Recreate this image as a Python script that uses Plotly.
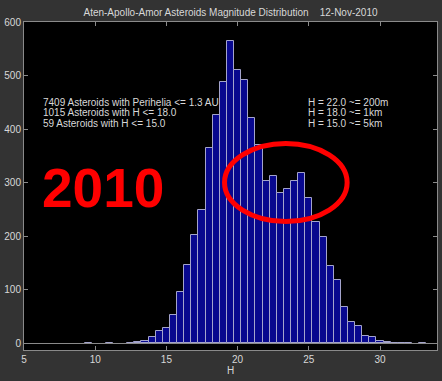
import plotly.graph_objects as go

# Histogram data (bin centers in H, counts)
bin_centers = [9.5, 11.0, 12.5, 13.0, 13.5, 14.0, 14.5, 15.0, 15.5, 16.0,
               16.5, 17.0, 17.5, 18.0, 18.5, 19.0, 19.5, 20.0, 20.5, 21.0,
               21.5, 22.0, 22.5, 23.0, 23.5, 24.0, 24.5, 25.0, 25.5, 26.0,
               26.5, 27.0, 27.5, 28.0, 28.5, 29.0, 29.5, 30.0, 30.5, 31.0,
               31.5, 32.0, 33.0]
counts = [1, 1, 1, 2, 4, 12, 23, 29, 53, 95,
          146, 202, 248, 364, 427, 487, 564, 510, 492, 420,
          370, 303, 313, 280, 288, 303, 318, 271, 226, 199,
          144, 118, 68, 40, 32, 13, 12, 4, 2, 1,
          1, 1, 1]

x_ticks = [5, 10, 15, 20, 25, 30]
y_ticks = [0, 100, 200, 300, 400, 500, 600]

title_text = "Aten-Apollo-Amor Asteroids Magnitude Distribution    12-Nov-2010"
left_notes = ["7409 Asteroids with Perihelia <= 1.3 AU",
              "1015 Asteroids with H <= 18.0",
              "59 Asteroids with H <= 15.0"]
right_notes = ["H = 22.0 ~= 200m", "H = 18.0 ~= 1km", "H = 15.0 ~= 5km"]
note_y = [450, 430, 410]

FONT = "Liberation Sans, Arial, sans-serif"
TXT = "#d8d8d8"
AX = "#8a8a8a"

fig = go.Figure()
fig.add_trace(go.Bar(
    x=bin_centers, y=counts, width=0.5,
    marker=dict(color="#08088e", line=dict(color="#a4a4cc", width=1)),
    hoverinfo="x+y",
))

annotations = []
for t, yv in zip(left_notes, note_y):
    annotations.append(dict(x=6.2, y=yv, xref="x", yref="y", text=t, showarrow=False,
                            xanchor="left", yanchor="middle",
                            font=dict(family=FONT, size=10, color=TXT)))
for t, yv in zip(right_notes, note_y):
    annotations.append(dict(x=24.8, y=yv, xref="x", yref="y", text=t, showarrow=False,
                            xanchor="left", yanchor="middle",
                            font=dict(family=FONT, size=10, color=TXT)))
annotations.append(dict(x=10.55, y=290, xref="x", yref="y", text="<b>2010</b>",
                        showarrow=False, xanchor="center", yanchor="middle",
                        font=dict(family=FONT, size=55, color="#ff0000")))
annotations.append(dict(x=0.5, y=-0.062, xref="paper", yref="paper", text="H",
                        showarrow=False, xanchor="center", yanchor="middle",
                        font=dict(family=FONT, size=10, color=TXT)))

fig.update_layout(
    width=442, height=381,
    margin=dict(l=21, r=4, t=22, b=31),
    paper_bgcolor="#333333",
    plot_bgcolor="#000000",
    showlegend=False,
    bargap=0,
    title=dict(text=title_text, x=0.5, xref="paper", y=1 - 12 / 381, yref="container",
               xanchor="center", yanchor="middle",
               font=dict(family=FONT, size=10, color=TXT)),
    annotations=annotations,
    shapes=[dict(type="circle", xref="x", yref="y", x0=19.08, x1=27.69, y0=227, y1=373,
                 line=dict(color="#ff0000", width=5), fillcolor="rgba(0,0,0,0)")],
    xaxis=dict(range=[5, 34], tickvals=x_ticks, ticks="inside", ticklen=4, tickcolor=AX,
               showline=True, linecolor=AX, linewidth=1, mirror="ticks",
               showgrid=False, zeroline=False,
               tickfont=dict(family=FONT, size=10, color=TXT)),
    yaxis=dict(range=[-13, 600], tickvals=y_ticks, ticks="inside", ticklen=4, tickcolor=AX,
               showline=True, linecolor=AX, linewidth=1, mirror="ticks",
               showgrid=False, zeroline=True, zerolinecolor=AX, zerolinewidth=1,
               tickfont=dict(family=FONT, size=10, color=TXT)),
)

fig.write_html("out.html")
